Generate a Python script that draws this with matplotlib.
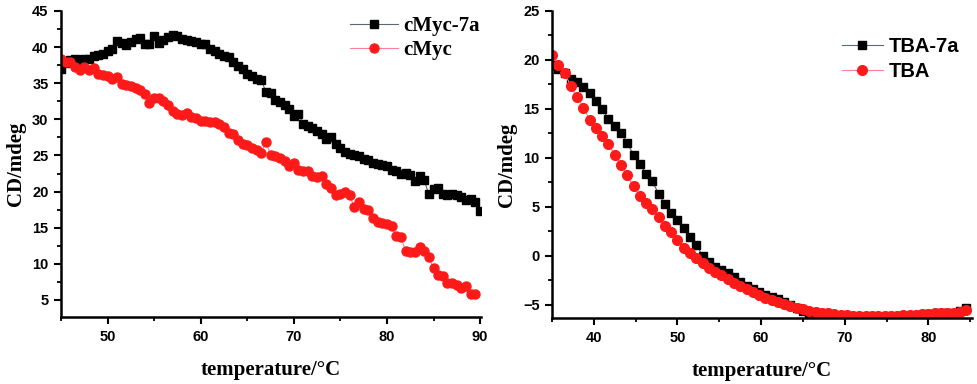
import numpy as np
import matplotlib
matplotlib.use("Agg")
import matplotlib.pyplot as plt
from matplotlib.ticker import MultipleLocator

# ---------------- data: left panel ----------------
temp_cmyc7a = np.arange(45.0, 90.01, 0.5)
cmyc7a = [37.0, 37.8, 38.2, 38.3, 37.9, 38.3, 38.4, 38.8, 38.9, 39.1,
          39.5, 39.7, 40.9, 40.6, 40.3, 40.7, 41.1, 41.2, 40.5, 40.4,
          41.6, 40.6, 41.0, 41.4, 41.7, 41.5, 41.1, 41.0, 40.8, 40.7,
          40.5, 40.4, 39.8, 39.4, 39.1, 38.8, 38.6, 37.9, 37.4, 37.0,
          36.3, 36.0, 35.6, 35.5, 33.8, 33.6, 32.7, 32.4, 32.0, 31.4,
          30.4, 30.8, 29.3, 29.1, 28.8, 28.4, 28.0, 27.3, 27.6, 26.6,
          26.1, 25.5, 25.2, 25.1, 24.9, 24.5, 24.4, 24.0, 23.8, 23.7,
          23.6, 23.0, 22.8, 22.4, 22.6, 22.3, 21.5, 22.2, 21.6, 19.6,
          20.3, 20.5, 19.7, 19.5, 19.6, 19.5, 19.3, 18.9, 19.0, 18.5,
          17.3]
temp_cmyc = np.arange(45.0, 89.51, 0.5)
cmyc = [38.4, 37.9, 38.0, 37.3, 36.9, 37.2, 36.9, 37.1, 36.3, 36.2,
        36.0, 35.6, 35.8, 34.9, 34.8, 34.6, 34.3, 34.0, 33.5, 32.3,
        32.9, 32.9, 32.6, 32.0, 31.2, 30.8, 30.6, 30.9, 30.3, 30.2,
        29.8, 29.8, 29.7, 29.6, 29.3, 28.9, 28.1, 28.0, 27.2, 26.6,
        26.4, 26.1, 25.8, 25.4, 26.9, 25.1, 24.9, 24.6, 24.2, 23.6,
        24.0, 23.0, 22.9, 22.8, 22.2, 22.0, 22.2, 21.0, 20.5, 19.5,
        19.6, 19.9, 19.5, 17.8, 18.6, 17.6, 17.5, 16.3, 15.8, 15.7,
        15.5, 15.2, 13.8, 13.7, 11.8, 11.7, 11.6, 12.4, 11.8, 10.9,
        9.4, 8.5, 8.3, 7.4, 7.3, 7.1, 6.7, 7.0, 5.8, 5.8]

# ---------------- data: right panel ----------------
temp_tba = np.arange(35.0, 84.51, 0.75)
tba7a = [19.5, 19.1, 18.7, 18.1, 17.7, 17.2, 16.6, 15.8, 15.0, 14.0,
         13.3, 12.5, 11.5, 10.3, 9.4, 8.3, 7.6, 6.3, 5.3, 4.4,
         3.7, 2.8, 1.9, 1.1, 0.0, -0.6, -1.1, -1.5, -1.8, -2.2,
         -2.7, -3.1, -3.4, -3.7, -4.0, -4.2, -4.4, -4.7, -5.0, -5.3,
         -5.6, -5.9, -6.0, -6.1, -6.2, -6.2, -6.2, -6.3, -6.3, -6.3,
         -6.3, -6.3, -6.3, -6.3, -6.3, -6.3, -6.2, -6.2, -6.2, -6.1,
         -6.0, -6.0, -5.9, -5.9, -5.8, -5.6, -5.3]
tba = [20.5, 19.5, 18.7, 17.3, 16.2, 15.1, 13.9, 13.0, 12.2, 11.4,
       10.3, 9.3, 8.2, 7.1, 6.1, 5.4, 4.8, 4.0, 3.0, 2.4,
       1.6, 0.8, 0.3, -0.2, -0.7, -1.3, -1.7, -2.0, -2.4, -2.8,
       -3.1, -3.4, -3.7, -4.0, -4.3, -4.5, -4.7, -4.9, -5.1, -5.3,
       -5.45, -5.6, -5.7, -5.8, -5.9, -6.0, -6.1, -6.1, -6.15, -6.2,
       -6.2, -6.2, -6.2, -6.2, -6.2, -6.2, -6.1, -6.1, -6.1, -6.0,
       -6.0, -5.9, -5.8, -5.8, -5.8, -5.7, -5.5]

left_x_ticks = [50, 60, 70, 80, 90]
left_y_ticks = [5, 10, 15, 20, 25, 30, 35, 40, 45]
right_x_ticks = [40, 50, 60, 70, 80]
right_y_ticks = [-5, 0, 5, 10, 15, 20, 25]

SERIF = ["Liberation Serif", "DejaVu Serif"]
SANS = ["Liberation Sans", "DejaVu Sans"]

plt.rcParams["font.family"] = SANS
plt.rcParams["font.weight"] = "bold"
plt.rcParams["axes.labelweight"] = "bold"

W, H = 977, 384
fig = plt.figure(figsize=(W / 100, H / 100), dpi=100)


def style_axes(ax):
    for s in ("top", "right"):
        ax.spines[s].set_visible(False)
    for s in ("left", "bottom"):
        ax.spines[s].set_linewidth(1.8)
    ax.tick_params(which="major", direction="out", length=5, width=1.5,
                   labelsize=10.5, pad=4)
    ax.tick_params(which="minor", direction="out", length=3, width=1.3)
    ax.set_xlabel("temperature/°C", family=SERIF, fontweight="bold",
                  fontsize=15, labelpad=12)
    ax.set_ylabel("CD/mdeg", family=SERIF, fontweight="bold",
                  fontsize=15, labelpad=4)


# left panel
ax1 = fig.add_axes([61 / W, (H - 317.3) / H, 420 / W, 306.3 / H])
ax1.plot(temp_cmyc7a, cmyc7a, marker="s", ms=5.5, color="#5a6a6e", lw=0.8,
         mfc="black", mec="black", label="cMyc-7a")
ax1.plot(temp_cmyc, cmyc, marker="o", ms=6.5, color="#ff7fa0", lw=0.8,
         mfc="#ff1a1a", mec="#ff1a1a", label="cMyc")
ax1.set_xlim(45, 90.1)
ax1.set_ylim(2.6, 45)
ax1.set_xticks(left_x_ticks)
ax1.set_yticks(left_y_ticks)
ax1.xaxis.set_minor_locator(MultipleLocator(5))
ax1.yaxis.set_minor_locator(MultipleLocator(2.5))
style_axes(ax1)
ax1.legend(loc="upper left", bbox_to_anchor=(0.643, 1.045), frameon=False,
           prop={"family": SERIF, "weight": "bold", "size": 15},
           handlelength=2.3, handletextpad=0.25, labelspacing=0.2)

# right panel
ax2 = fig.add_axes([552 / W, (H - 318) / H, 420 / W, 307 / H])
ax2.plot(temp_tba, tba7a, marker="s", ms=6, color="#5a6a6e", lw=0.8,
         mfc="black", mec="black", label="TBA-7a")
ax2.plot(temp_tba, tba, marker="o", ms=7, color="#ff7fa0", lw=0.8,
         mfc="#ff1a1a", mec="#ff1a1a", label="TBA")
ax2.set_xlim(35, 85.2)
ax2.set_ylim(-6.36, 25)
ax2.set_xticks(right_x_ticks)
ax2.set_yticks(right_y_ticks)
ax2.xaxis.set_minor_locator(MultipleLocator(5))
ax2.yaxis.set_minor_locator(MultipleLocator(2.5))
style_axes(ax2)
ax2.legend(loc="upper left", bbox_to_anchor=(0.648, 0.975), frameon=False,
           prop={"family": SANS, "weight": "bold", "size": 14.5},
           handlelength=2.0, handletextpad=0.3, labelspacing=0.3)

fig.savefig("out.png", dpi=100)
